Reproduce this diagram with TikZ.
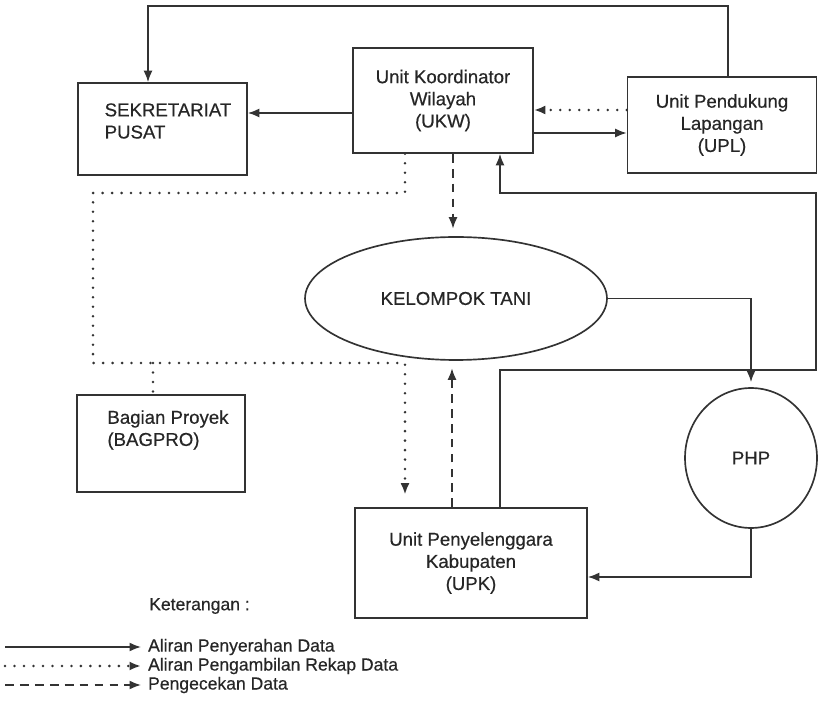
\documentclass[tikz,border=0pt]{standalone}
\usepackage{fontspec}
\setmainfont{Liberation Sans}[UprightFeatures={FakeBold=0.5}]
\usetikzlibrary{arrows.meta,shapes.geometric}

\begin{document}
\begin{tikzpicture}[x=0.02cm, y=-0.02cm,
  every node/.style={text=black!85, font=\fontsize{10.6}{12.6}\selectfont},
  box/.style={draw=black!80, line width=0.95pt, rectangle, inner sep=0pt},
  flow/.style={draw=black!80, line width=0.95pt, -{Latex[length=2.3mm,width=1.8mm]}},
  rekap/.style={flow, line cap=round, dash pattern=on 0pt off 5.4pt, line width=1.6pt},
  cek/.style={flow, dash pattern=on 5pt off 3.5pt},
  legtext/.style={anchor=west, inner sep=1pt, font=\fontsize{10}{12}\selectfont}]

\useasboundingbox (0,0) rectangle (818,705);

% Boxes
\node[box, minimum width=3.38cm, minimum height=1.84cm] (sek) at (162.5,129) {};
\node[align=left] (sektext) at (168,121) {SEKRETARIAT\\PUSAT};
\node[box, minimum width=3.6cm, minimum height=2.1cm, align=center] (ukw) at (443,100.5) {Unit Koordinator\\Wilayah\\(UKW)};
\node[box, minimum width=3.78cm, minimum height=1.92cm, align=center] (upl) at (722,125) {Unit Pendukung\\Lapangan\\(UPL)};
\node[box, minimum width=3.36cm, minimum height=1.94cm] (bagpro) at (161,443.5) {};
\node[align=left] (bagprotext) at (168,430) {Bagian Proyek\\(BAGPRO)};
\node[box, minimum width=4.64cm, minimum height=2.2cm, align=center] (upk) at (471,563) {Unit Penyelenggara\\Kabupaten\\(UPK)};

% Ellipses
\node[draw=black!80, line width=0.95pt, ellipse, inner sep=0pt, minimum width=6.04cm, minimum height=2.46cm] (kt) at (456,298.5) {KELOMPOK TANI};
\node[draw=black!80, line width=0.95pt, ellipse, inner sep=0pt, minimum width=2.64cm, minimum height=2.8cm, text depth=-0.2cm] (php) at (751,458) {PHP};

% Top line to sekretariat
\coordinate (tr) at (728,6);
\coordinate (tl) at (148,6);
\draw[flow] (upl.north -| tr) -- (tr) -- (tl) -- (sek.north -| tl);

% UKW, sekretariat and UPL
\draw[flow] (ukw.west |- 0,113) -- (sek.east |- 0,113);
\draw[rekap] (upl.west |- 0,110) -- (ukw.east |- 0,110);
\draw[flow] (ukw.east |- 0,133) -- (upl.west |- 0,133);

% UPK back up to UKW
\draw[flow] (upk.north -| 500,0) -- (500,370) -- (816,370) -- (816,193) -- (500,193) -- (ukw.south -| 500,0);

% Rekap data round the left
\draw[rekap, shorten >=2.5mm] (ukw.south -| 405,0) -- (405,193) -- (93,193) -- (93,363) -- (405,363) -- (upk.north -| 405,0);
\draw[rekap, -] (153,363) -- (bagpro.north -| 153,0);

% Pengecekan
\draw[cek, shorten >=1.5mm] (ukw.south -| 453,0) -- (kt.north -| 453,0);
\draw[cek, shorten >=1.5mm] (upk.north -| 452,0) -- (kt.south -| 452,0);

% Kelompok tani, PHP, UPK
\draw[flow, shorten >=1mm] (kt.east) -| (php.north);
\draw[flow] (php.south) |- (upk.east |- 0,577);

% Legend
\node[anchor=west, font=\fontsize{10}{12}\selectfont] (ket) at (143,606) {Keterangan :};
\node[legtext] (leg1) at (146,647) {Aliran Penyerahan Data};
\node[legtext] (leg2) at (146,666) {Aliran Pengambilan Rekap Data};
\node[legtext] (leg3) at (146,685) {Pengecekan Data};
\coordinate (l1) at (5,647);
\coordinate (l2) at (5,666);
\coordinate (l3) at (5,685);
\draw[flow, shorten >=1mm] (l1) -- (leg1.west);
\draw[rekap, shorten >=1mm] (l2) -- (leg2.west);
\draw[cek, shorten >=1mm] (l3) -- (leg3.west);

\end{tikzpicture}
\end{document}
